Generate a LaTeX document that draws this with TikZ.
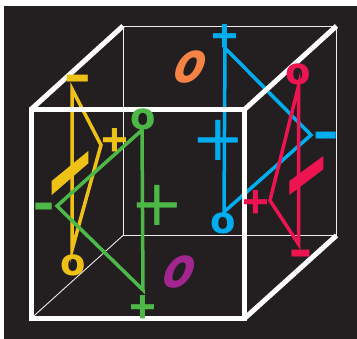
\documentclass[tikz,border=0pt]{standalone}
\usepackage{fontspec}
\setmainfont{DejaVu Sans}
\newfontfamily\heavysign{Liberation Sans}
\usetikzlibrary{positioning}
\definecolor{cubebg}{HTML}{231F20}
\definecolor{signyellow}{HTML}{EEC116}
\definecolor{signgreen}{HTML}{4DB848}
\definecolor{signblue}{HTML}{00AEEF}
\definecolor{signpink}{HTML}{ED1551}
\definecolor{signorange}{HTML}{F58345}
\definecolor{signpurple}{HTML}{A3258F}
\tikzset{
  thinedge/.style={draw=white!85!gray, line width=0.9pt},
  thickedge/.style={draw=white, line width=5pt},
  tri/.style={line width=3.5pt, line join=miter},
  ring sign/.style={inner sep=0pt, font=\fontsize{37}{37}\selectfont\bfseries},
  plus sign/.style={inner sep=0pt, font=\fontsize{46}{46}\heavysign\bfseries},
  dash sign/.style={inner sep=0pt, yscale=1.5, transform shape, font=\fontsize{42}{42}\heavysign\bfseries},
  big sign/.style={inner sep=0pt, font=\fontsize{64}{64}\selectfont},
  tilted o/.style={inner sep=0pt, xslant=0.25, xscale=0.82, yscale=1.05, transform shape, font=\fontsize{54}{54}\selectfont\bfseries\itshape}
}
\begin{document}
\begin{tikzpicture}[x=1pt,y=-1pt]
  \useasboundingbox (0,0) rectangle (357,339);
  \fill[cubebg] (4,6.5) rectangle (357,339);

  % Cube corners
  \coordinate (ftl) at (31,109.5);
  \coordinate (ftr) at (244.5,109.5);
  \coordinate (fbr) at (244.5,318.5);
  \coordinate (fbl) at (31,318.5);
  \coordinate (btl) at (123,26);
  \coordinate (btr) at (336.5,26);
  \coordinate (bbr) at (336.5,235.5);
  \coordinate (bbl) at (123,235.5);

  % Back edges
  \draw[thinedge] (btl) -- (btr) -- (bbr) -- (bbl) -- cycle;
  \draw[thinedge] (fbl) -- (bbl);

  % Triangles
  \coordinate (ya) at (72,89);
  \coordinate (yb) at (101,145);
  \coordinate (yc) at (72,250);
  \draw[signyellow, tri] (ya) -- (yb) -- (yc) -- cycle;
  \fill[signyellow] (88.3,151) -- (88.3,163.3) -- (51.7,195) -- (51.7,181) -- cycle;

  \coordinate (ba) at (225,48);
  \coordinate (bb) at (311,135);
  \coordinate (bc) at (224,212);
  \draw[signblue, tri] (ba) -- (bb) -- (bc) -- cycle;

  \coordinate (pa) at (298.5,86);
  \coordinate (pb) at (270,200.5);
  \coordinate (pc) at (298.5,244);
  \draw[signpink, tri] (pa) -- (pb) -- (pc) -- cycle;
  \fill[signpink] (323.3,156) -- (323.3,169.3) -- (289.3,195) -- (289.3,181) -- cycle;

  \coordinate (ga) at (142,130);
  \coordinate (gb) at (57,206);
  \coordinate (gc) at (143,290);
  \draw[signgreen, tri] (ga) -- (gb) -- (gc) -- cycle;

  % Front edges
  \draw[thickedge] (ftl) -- (ftr) -- (fbr) -- (fbl) -- cycle;
  \draw[thickedge] (ftl) -- (btl);
  \draw[thickedge] (ftr) -- (btr);
  \draw[thickedge] (fbr) -- (bbr);

  % Signs
  \foreach \n/\c/\x/\y in {yp/signyellow/114.5/142, bp/signblue/225/38.5, pp/signpink/256/204.5, gp/signgreen/142.5/309} {
    \node[plus sign, text=\c] (\n) at (\x,\y) {+};
  }
  \foreach \n/\c/\x/\y in {yo/signyellow/73/265.5, bo/signblue/223/223.5, po/signpink/298.5/74.5, go/signgreen/143/119.5} {
    \node[ring sign, text=\c] (\n) at (\x,\y) {o};
  }
  \foreach \n/\c/\x/\y/\w in {ym/signyellow/77.5/87/1, bm/signblue/326/144/0.95, pm/signpink/300.5/262/0.85, gm/signgreen/44.5/215.5/0.78} {
    \node[dash sign, xscale=\w, text=\c] (\n) at (\x,\y) {−};
  }
  \node[big sign, text=signblue] (bq) at (218.5,140) {+};
  \node[big sign, text=signgreen] (gq) at (157.5,205) {+};
  \node[tilted o, text=signorange] (oo) at (190.5,67.5) {o};
  \node[tilted o, text=signpurple] (uo) at (180,272.5) {o};
\end{tikzpicture}
\end{document}
